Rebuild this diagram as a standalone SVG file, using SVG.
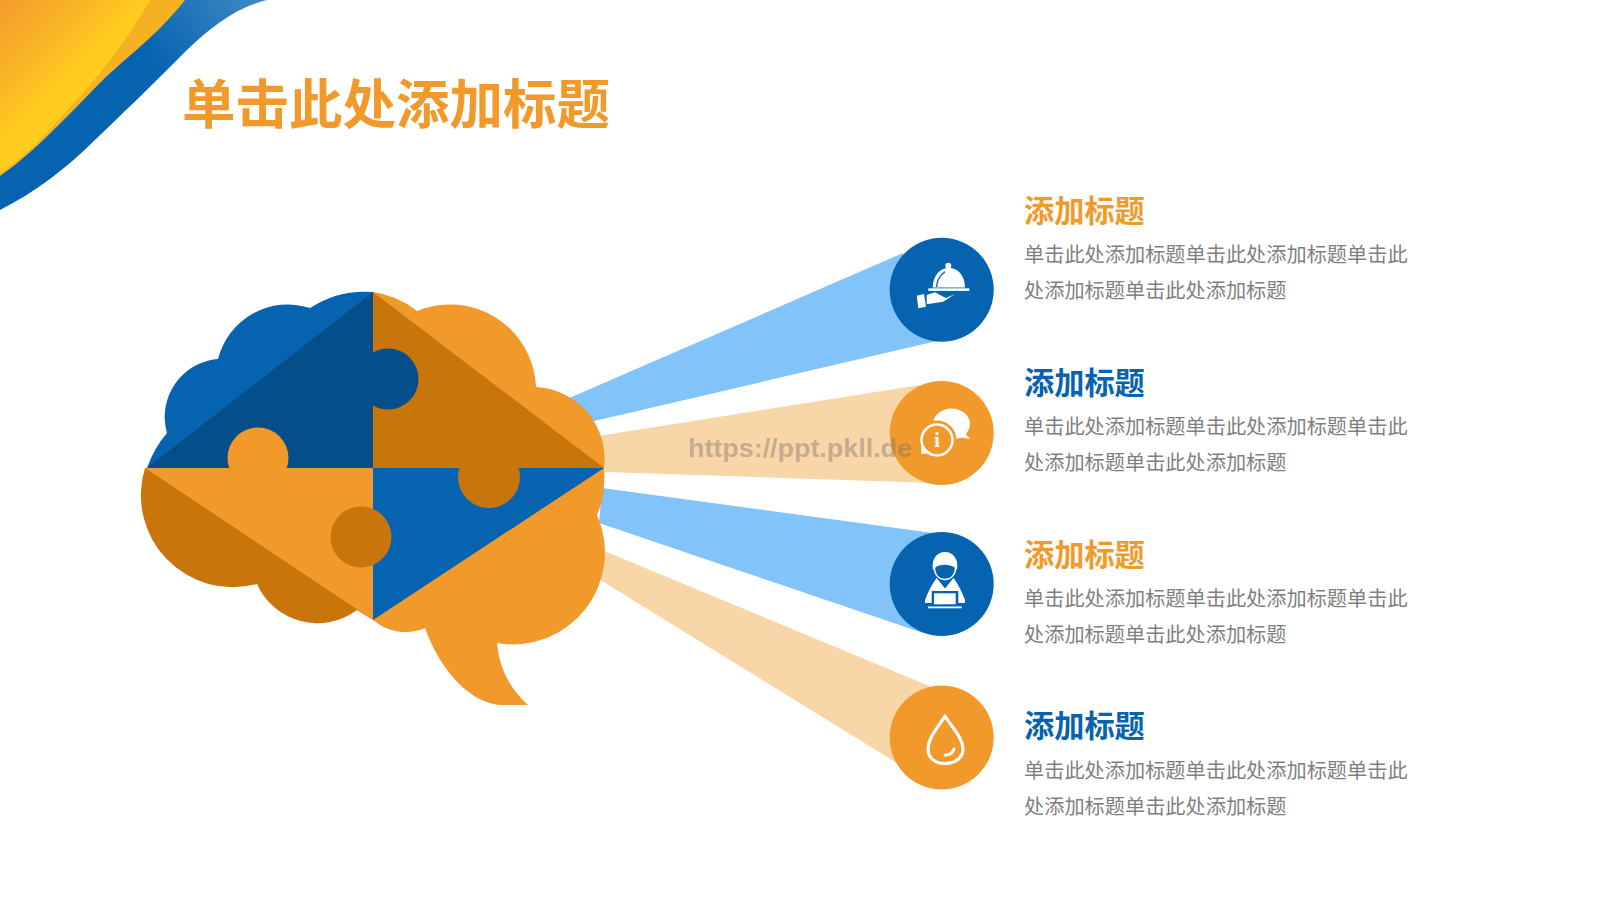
<svg xmlns="http://www.w3.org/2000/svg" width="1600" height="900" viewBox="0 0 1600 900">
  <defs>
    <linearGradient id="sun" gradientUnits="userSpaceOnUse" x1="0" y1="0" x2="75" y2="75">
      <stop offset="0" stop-color="#F39A2C"/>
      <stop offset="1" stop-color="#FFCC1F"/>
    </linearGradient>
    <linearGradient id="band" gradientUnits="userSpaceOnUse" x1="120" y1="110" x2="260" y2="0">
      <stop offset="0.3" stop-color="#0563AF"/>
      <stop offset="1" stop-color="#3F88C5"/>
    </linearGradient>
  </defs>
  <style>
    text { font-family: "Noto Sans CJK SC", "Liberation Sans", sans-serif; }
    .title { font-size: 53.5px; font-weight: 700; fill: #F2992B; }
    .head { font-size: 30.2px; font-weight: 700; }
    .body { font-size: 20.2px; fill: #7F7F7F; }
    .orange { fill: #F2992B; }
    .blue { fill: #0563AF; }
    .dkblue { fill: #044F8A; }
    .dkorange { fill: #C8750C; }
    .beam-b { fill: #82C3FA; }
    .beam-o { fill: #F9D6A8; }
    .w { fill: #FFFFFF; }
    .ws { fill: none; stroke: #FFFFFF; stroke-linecap: round; stroke-linejoin: round; }
  </style>

  <rect width="1600" height="900" fill="#FFFFFF"/>

  <!-- corner ribbon -->
  <g id="ribbon">
    <path d="M0,0 H267 C225,10 195,42 167,70 C145,92 120,116 97,138 C65,170 35,192 0,210 Z" fill="url(#band)"/>
    <path d="M0,0 H185 C155,38 128,55 100,83 C68,115 35,152 0,176 Z" fill="#F4B223"/>
    <path d="M0,0 H150 C130,35 108,65 83,93 C65,113 45,135 33,147 C22,157 10,166 0,174 Z" fill="url(#sun)"/>
  </g>

  <text class="title" x="182" y="124">单击此处添加标题</text>

  <!-- rays from the brain to the badges -->
  <g id="connectors">
    <polygon class="beam-b" points="567,399 903,253 937,341 590,422"/>
    <polygon class="beam-o" points="598,436 920,385 933,483 605,472"/>
    <polygon class="beam-b" points="602,488 933,533 923,633 599,523"/>
    <polygon class="beam-o" points="597,548 932,687 900,765 597,578"/>
  </g>

  <g id="brain">
    <path class="blue" d="M373,292 A100,100 0 0 0 310,308 A72,72 0 0 0 218,359 A58,58 0 0 0 167,433 Q154,448 147,468 L373,468 Z"/>
    <path class="orange" d="M373,292 A90,90 0 0 1 417,311 A86,86 0 0 1 536,387 A72,72 0 0 1 604,468 Q606,495 597,515 A92,92 0 0 1 497,643 Q500,680 528,705 L500,705 C470,703 440,670 425,628 A50,50 0 0 1 373,620 Z"/>
    <path class="dkorange" d="M145,468 A92,92 0 0 0 257,584 A66,66 0 0 0 357,610 L373,620 L373,468 Z"/>
    <polygon class="dkblue" points="147,468 373,292 373,468"/>
    <polygon class="dkorange" points="373,292 604,468 373,468"/>
    <polygon class="orange" points="145,468 373,468 373,620"/>
    <polygon class="blue" points="373,468 604,468 373,620"/>
    <circle class="dkblue" cx="388" cy="379" r="30.5"/>
    <circle class="orange" cx="258" cy="458" r="30.5"/>
    <circle class="dkorange" cx="489" cy="477" r="31"/>
    <circle class="dkorange" cx="361" cy="537" r="30.5"/>
  </g>

  <g id="badge-1">
    <circle class="blue" cx="941.7" cy="289.7" r="52"/>
    <circle class="w" cx="948.3" cy="265.7" r="3"/>
    <path class="w" d="M932.7,287.5 C932.7,276 940,267.7 949,267.7 C958,267.7 965,276 965,287.5 Z"/>
    <path d="M936.5,287 C937,280 940,275 945,271.7" fill="none" stroke="#0563AF" stroke-width="1.3"/>
    <rect class="w" x="928.3" y="288.3" width="41" height="2.6"/>
    <polygon class="w" points="916.7,295.7 924,294 926,306.7 918.3,308.3"/>
    <polygon class="w" points="926.7,295 935,292.3 943.3,296.7 946,298 955,294 943.3,301.7 926.7,304.3"/>
  </g>

  <g id="badge-2">
    <circle class="orange" cx="941.7" cy="433" r="52"/>
    <ellipse class="w" cx="951.5" cy="424" rx="18.5" ry="15.5"/>
    <polygon class="w" points="962,430 970,439 958,437"/>
    <circle class="orange" cx="937" cy="440" r="19.5"/>
    <circle cx="937" cy="440" r="15.5" fill="#F2992B" stroke="#FFFFFF" stroke-width="2.5"/>
    <path class="w" d="M921,446 L921.5,454 L931,453 Z"/>
    <text x="937" y="447" text-anchor="middle" style="font-family:'Liberation Serif',serif;font-size:20px;font-weight:700" class="w">i</text>
  </g>

  <g id="badge-3">
    <circle class="blue" cx="941.7" cy="584" r="52"/>
    <path class="w" d="M933,570 C931,559 937,552 945,552 C953,552 959,559 957,570 L954,567 C948,564 941,564 936,567 Z"/>
    <path class="ws" stroke-width="1.4" d="M934.5,568 C934.5,575 939,579.5 945,579.5 C951,579.5 955.5,575 955.5,568"/>
    <path class="w" d="M936.7,578 L945,588.5 L953.5,578 C958,584 962,592 965,600 L965,603 L925,603 L925,600 C928,592 932,584 936.7,578 Z"/>
    <rect x="931.7" y="591" width="26.6" height="14.5" fill="#0563AF"/>
    <rect class="w" x="934" y="593.3" width="21.7" height="11"/>
    <rect class="w" x="928" y="606.5" width="33.7" height="1.8"/>
  </g>

  <g id="badge-4">
    <circle class="orange" cx="941.7" cy="737.5" r="52"/>
    <path class="ws" stroke-width="3.2" d="M945,716 C937,729 928,738 928,749 C928,758 935,763.5 945,763.5 C955,763.5 963,758 963,749 C963,738 953,729 945,716 Z"/>
    <path class="ws" stroke-width="3" d="M945,755 C950,755 953,752 954,749"/>
  </g>

  <g id="label-1">
    <text class="head orange" x="1024" y="222">添加标题</text>
    <text class="body" x="1024" y="262">单击此处添加标题单击此处添加标题单击此</text>
    <text class="body" x="1024" y="298">处添加标题单击此处添加标题</text>
  </g>
  <g id="label-2">
    <text class="head blue" x="1024" y="394">添加标题</text>
    <text class="body" x="1024" y="434">单击此处添加标题单击此处添加标题单击此</text>
    <text class="body" x="1024" y="470">处添加标题单击此处添加标题</text>
  </g>
  <g id="label-3">
    <text class="head orange" x="1024" y="566">添加标题</text>
    <text class="body" x="1024" y="606">单击此处添加标题单击此处添加标题单击此</text>
    <text class="body" x="1024" y="642">处添加标题单击此处添加标题</text>
  </g>
  <g id="label-4">
    <text class="head blue" x="1024" y="737">添加标题</text>
    <text class="body" x="1024" y="778">单击此处添加标题单击此处添加标题单击此</text>
    <text class="body" x="1024" y="814">处添加标题单击此处添加标题</text>
  </g>

  <text x="688" y="457" textLength="224" lengthAdjust="spacingAndGlyphs" style="font-family:'Liberation Sans',sans-serif;font-size:26px;font-weight:700" fill="#7A7068" fill-opacity="0.42">https://ppt.pkll.de</text>
</svg>
